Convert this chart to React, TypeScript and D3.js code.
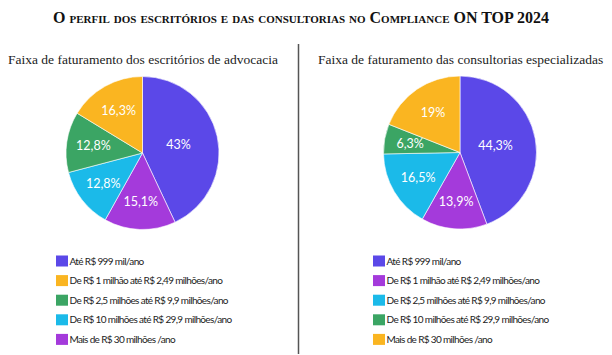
import React from "react";
import * as d3 from "d3";

const categories = [
  "Até R$ 999 mil/ano",
  "De R$ 1 milhão até R$ 2,49 milhões/ano",
  "De R$ 2,5 milhões até R$ 9,9 milhões/ano",
  "De R$ 10 milhões até R$ 29,9 milhões/ano",
  "Mais de R$ 30 milhões /ano",
];

// values per category (same order as categories)
const leftValues = [43, 16.3, 12.8, 12.8, 15.1];
const leftLabels = ["43%", "16,3%", "12,8%", "12,8%", "15,1%"];
const leftColors = ["#5B48E8", "#FAB521", "#3BA564", "#1BBAE9", "#A43ADB"];
// slice order clockwise from top (category indices)
const leftOrder = [0, 4, 3, 2, 1];

const rightValues = [44.3, 13.9, 16.5, 6.3, 19];
const rightLabels = ["44,3%", "13,9%", "16,5%", "6,3%", "19%"];
const rightColors = ["#5B48E8", "#A43ADB", "#1BBAE9", "#3BA564", "#FAB521"];
const rightOrder = [0, 1, 2, 3, 4];

const mainTitle = "O perfil dos escritórios e das consultorias no Compliance ON TOP 2024";
const leftTitle = "Faixa de faturamento dos escritórios de advocacia";
const rightTitle = "Faixa de faturamento das consultorias especializadas";

function Pie({ cx, cy, r, values, labels, colors, order }: any) {
  const vals = order.map((i: number) => values[i]);
  const arcs = d3.pie<number>().sort(null).value((d) => d)(vals);
  const arcGen = d3.arc<any>().innerRadius(0).outerRadius(r);
  return (
    <g transform={`translate(${cx},${cy})`}>
      {arcs.map((a, k) => (
        <path key={k} d={arcGen(a) || ""} fill={colors[order[k]]} stroke="#ffffff" strokeWidth={0.6} />
      ))}
      {arcs.map((a, k) => {
        const alpha = a.endAngle - a.startAngle;
        const mid = (a.startAngle + a.endAngle) / 2;
        const dist = (4 * r * Math.sin(alpha / 2)) / (3 * alpha);
        const x = Math.sin(mid) * dist;
        const y = -Math.cos(mid) * dist;
        return (
          <text key={"t" + k} x={x} y={y} dy="0.35em" textAnchor="middle" fill="#ffffff"
            fontFamily="Lato, sans-serif" fontSize={12.5}>
            {labels[order[k]]}
          </text>
        );
      })}
    </g>
  );
}

function Legend({ x, y, colors }: any) {
  return (
    <g>
      {categories.map((c, i) => (
        <g key={i} transform={`translate(${x},${y + i * 19.6})`}>
          <rect x={0} y={-5.5} width={12} height={11} fill={colors[i]} />
          <text x={13.5} y={0} dy="0.35em" fontFamily="Lato, sans-serif" fontSize={10} fill="#222" letterSpacing={-0.65}>
            {c}
          </text>
        </g>
      ))}
    </g>
  );
}

export default function App() {
  return (
    <svg width={612} height={355} style={{ position: "absolute", left: 0, top: 0, background: "#fff" }}>
      <rect width={612} height={355} fill="#fff" />
      <text x={301} y={23} textAnchor="middle" fontFamily="'Liberation Serif', serif" fontWeight="bold"
        fontSize={16} fill="#111" style={{ fontVariant: "small-caps" }}>
        {mainTitle}
      </text>
      <line x1={298.5} x2={298.5} y1={44} y2={354} stroke="#555" strokeWidth={1.5} />
      <text x={8} y={64} fontFamily="'Liberation Serif', serif" fontSize={13.5} fill="#222">{leftTitle}</text>
      <text x={318} y={64} fontFamily="'Liberation Serif', serif" fontSize={13.5} fill="#222">{rightTitle}</text>
      <Pie cx={142.5} cy={153} r={76.5} values={leftValues} labels={leftLabels} colors={leftColors} order={leftOrder} />
      <Pie cx={460} cy={152.5} r={76.5} values={rightValues} labels={rightLabels} colors={rightColors} order={rightOrder} />
      <Legend x={56} y={261} colors={leftColors} />
      <Legend x={373} y={261} colors={rightColors} />
    </svg>
  );
}
